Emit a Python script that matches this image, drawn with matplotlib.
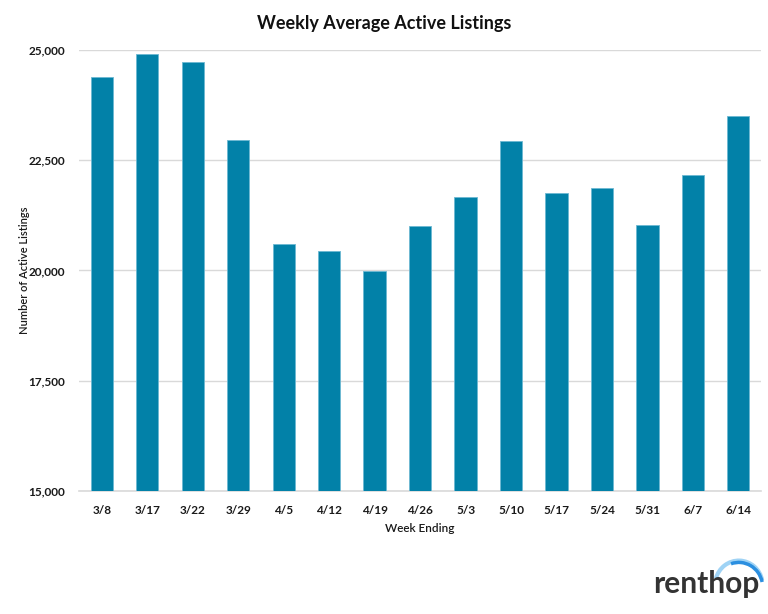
import matplotlib
matplotlib.use("Agg")
import matplotlib.pyplot as plt
from matplotlib.patches import Arc
from matplotlib.ticker import FuncFormatter

weeks = ["3/8", "3/17", "3/22", "3/29", "4/5", "4/12", "4/19", "4/26",
         "5/3", "5/10", "5/17", "5/24", "5/31", "6/7", "6/14"]
listings = [24380, 24900, 24730, 22950, 20610, 20450, 19990, 21020,
            21660, 22940, 21760, 21880, 21040, 22160, 23500]
yticks = [15000, 17500, 20000, 22500, 25000]

plt.rcParams['font.family'] = ['Lato', 'DejaVu Sans']

fig = plt.figure(figsize=(7.68, 6.14), dpi=100)
ax = fig.add_axes([0.103, 0.2003, 0.888, 0.7183])

xs = range(len(weeks))
ax.bar(xs, listings, width=0.49, color="#0281a8", edgecolor="#6cb8d2",
       linewidth=0.6, zorder=3)

ax.set_ylim(15000, 25000)
ax.set_xlim(-0.5, len(weeks) - 0.5)
ax.set_yticks(yticks)
ax.yaxis.set_major_formatter(FuncFormatter(lambda v, p: f"{int(v):,}"))
ax.set_xticks(list(xs))
ax.set_xticklabels(weeks)
ax.grid(axis="y", color="#d9d9d9", linewidth=1, zorder=0)
ax.tick_params(length=0, labelsize=8.5, colors="#1a1a1a", pad=10)
for lab in ax.get_xticklabels() + ax.get_yticklabels():
    lab.set_fontweight("bold")
ax.tick_params(axis="y", pad=10)
for s in ["top", "right", "left"]:
    ax.spines[s].set_visible(False)
ax.spines["bottom"].set_color("#d9d9d9")
ax.spines["bottom"].set_linewidth(1.2)

ax.set_xlabel("Week Ending", fontsize=8.5, color="#1a1a1a", fontweight="semibold")
ax.xaxis.set_label_coords(0.5, -0.072)
ax.set_ylabel("Number of Active Listings", fontsize=8, color="#1a1a1a", fontweight="semibold")
ax.yaxis.set_label_coords(-0.072, 0.5)

fig.text(0.5, 0.962, "Weekly Average Active Listings", ha="center", va="center",
         fontsize=13, fontweight="bold", color="#111111")

# logo
fig.text(0.851, 0.034, "renthop", ha="left", va="baseline", fontsize=21.5,
         fontweight="bold", color="#333333")
arc1 = Arc((0.962, 0.047), 0.062, 0.08, theta1=15, theta2=160,
           transform=fig.transFigure, color="#9fd3f5", linewidth=3)
arc2 = Arc((0.962, 0.044), 0.062, 0.08, theta1=15, theta2=105,
           transform=fig.transFigure, color="#2b8fe0", linewidth=2.5)
fig.add_artist(arc1)
fig.add_artist(arc2)

fig.savefig("out.png", dpi=100)
